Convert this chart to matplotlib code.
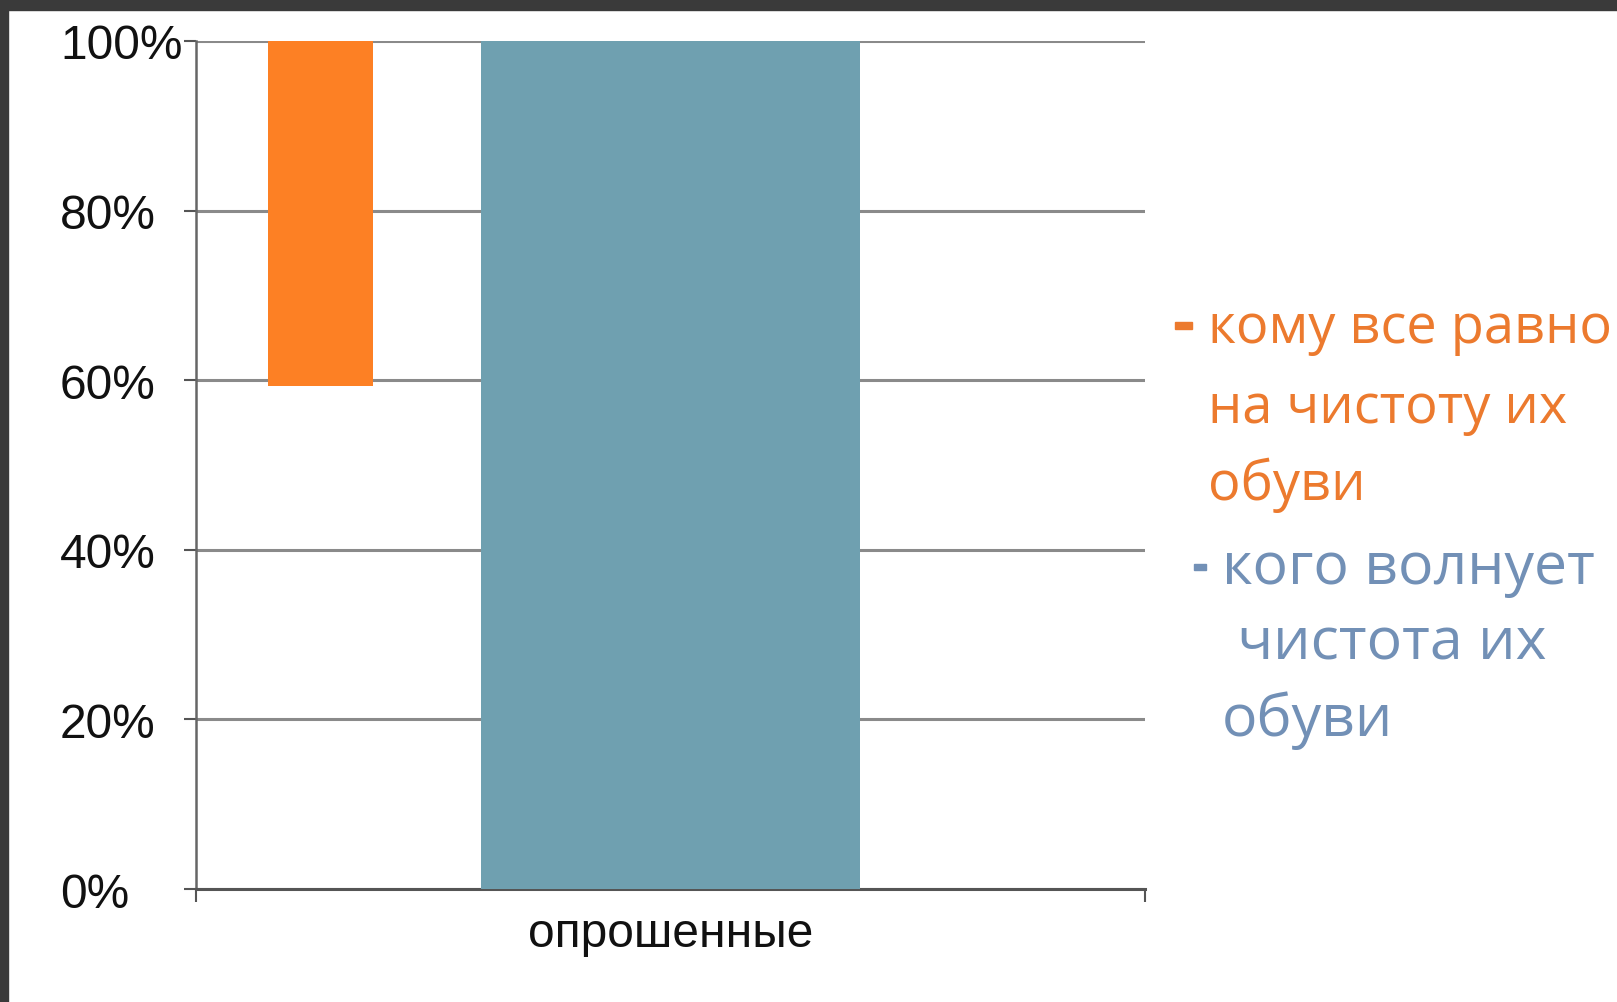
import numpy as np
import matplotlib.pyplot as plt
from matplotlib.patches import Rectangle

# data
categories=["опрошенные"]
care_vals=[100.0]          # кого волнует чистота их обуви [%]
nocare_bottom=[59.3]       # кому все равно: start of bar [%]
nocare_top=[100.0]         # кому все равно: end of bar [%]
yticks=[0,20,40,60,80,100]
ytick_labels=["0%","20%","40%","60%","80%","100%"]
legend_lines=[["кому все равно","на чистоту их","обуви"],
              ["кого волнует"," чистота их","обуви"]]

c_orange="#FD8024"
c_blue="#6FA0B0"
c_txt_orange="#EC7A2E"
c_txt_blue="#7290B6"
c_grid="#8A8A8A"

W,H=1617,1003
fig=plt.figure(figsize=(W/100,H/100),dpi=100)
fig.patch.set_facecolor("white")

# dark frame of the slide
fig.patches.append(Rectangle((0,1-11/H),1,11/H,transform=fig.transFigure,color="#3A3A3A",zorder=0))
fig.patches.append(Rectangle((0,0),8/W,1,transform=fig.transFigure,color="#3A3A3A",zorder=0))

ax=fig.add_axes([196/W,1-890/H,949/W,848/H])
x=np.arange(len(categories))
ax.bar(x,care_vals,width=0.4,color=c_blue,zorder=3)
ax.bar(x-0.369,np.array(nocare_top)-np.array(nocare_bottom),bottom=nocare_bottom,
       width=0.11,color=c_orange,zorder=3)

ax.set_xlim(-0.5,0.5)
ax.set_ylim(0,100)
ax.set_yticks(yticks)
ax.set_yticklabels(ytick_labels,fontsize=34.5,family="Liberation Sans",color="#111111")
for lab in ax.get_yticklabels():
    lab.set_horizontalalignment("left")
ax.tick_params(axis="y",length=9,width=1.5,color="#555555",pad=89)
ax.set_xticks(x)
ax.set_xticklabels(categories,fontsize=34.5,family="Liberation Sans",color="#111111")
ax.tick_params(axis="x",length=0,pad=16)
ax.set_xticks([-0.5,0.5],minor=True)
ax.tick_params(axis="x",which="minor",length=9,width=1.5,color="#555555")

ax.yaxis.grid(True,color=c_grid,linewidth=2.2,zorder=1)
ax.set_axisbelow(True)
for s in ["top","right"]:
    ax.spines[s].set_visible(False)
ax.spines["left"].set_color("#666666")
ax.spines["left"].set_linewidth(1.8)
ax.spines["bottom"].set_color("#555555")
ax.spines["bottom"].set_linewidth(2.2)

# legend drawn as text
baselines=[[343,423,500],[584,660,736]]
xs=[[1208,1208,1208],[1222,1222,1222]]
cols=[c_txt_orange,c_txt_blue]
sizes=[39,42.5]
for i in range(2):
    for j,line in enumerate(legend_lines[i]):
        fig.text(xs[i][j]/W,1-baselines[i][j]/H,line,fontsize=sizes[i],family="Open Sans",
                 color=cols[i],va="baseline",ha="left")
fig.patches.append(Rectangle((1175/W,1-330/H),17/W,7/H,transform=fig.transFigure,color=c_txt_orange))
fig.patches.append(Rectangle((1194/W,1-571/H),12/W,6/H,transform=fig.transFigure,color=c_txt_blue))

fig.savefig("out.png",dpi=100)
